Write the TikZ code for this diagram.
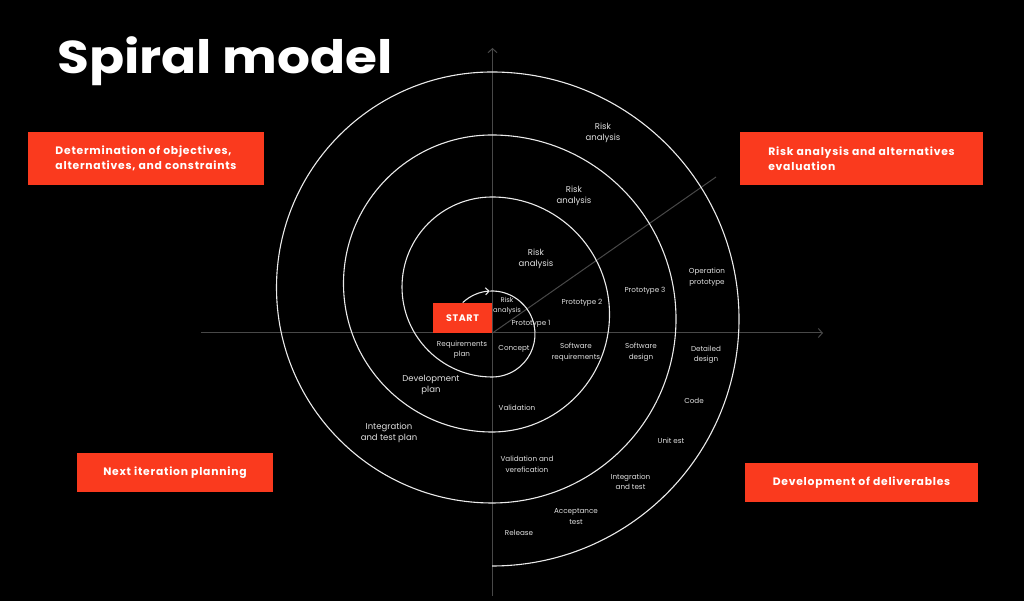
\documentclass[tikz,border=0pt]{standalone}
\usepackage{fontspec}
\setmainfont{Poppins}
\newfontfamily\boxfont{Poppins}[LetterSpace=7]
\usetikzlibrary{arrows.meta}
\definecolor{hot}{RGB}{250,58,30}
\definecolor{axisgray}{RGB}{72,72,72}
\definecolor{spiralwhite}{RGB}{235,235,235}
\definecolor{labelgray}{RGB}{225,225,225}
\begin{document}
\begin{tikzpicture}[x=1pt,y=1pt,
  redbox/.style={fill=hot, text=white, font=\boxfont\bfseries\fontsize{10.8}{15}\selectfont, align=left, inner sep=0pt},
  lbl/.style={text=labelgray, font=\fontsize{7.2}{10.5}\selectfont, align=center, inner sep=0pt},
  lblm/.style={text=labelgray, font=\fontsize{8.5}{11}\selectfont, align=center, inner sep=0pt},
  axisline/.style={draw=axisgray, line width=1pt},
  spiralline/.style={draw=spiralwhite, line width=1.1pt},
  barb/.style={-{Straight Barb[length=4pt,width=9pt]}},
]
\fill[black] (0,0) rectangle (1024,601);
\useasboundingbox (0,0) rectangle (1024,601);

% axes
\coordinate (O) at (492.5,268);
\coordinate (xl) at (201,268);
\coordinate (xr) at (823,268);
\coordinate (yb) at (492.5,5);
\coordinate (yt) at (492.5,553);
\coordinate (dg) at (716,424);
\draw[axisline, barb] (xl) -- (xr);
\draw[axisline, barb] (yb) -- (yt);
\draw[axisline] (O) -- (dg);

% spiral
\coordinate (s0) at (462.7,298.4);
\coordinate (s1) at (489.75,309.94);
\draw[spiralline, -{Straight Barb[length=3.5pt,width=7pt]}] (s0) arc[start angle=133, end angle=93, radius=43];
\draw[spiralline] (s1) arc[start angle=93, end angle=-90, radius=43]
  arc[start angle=270, end angle=90, radius=90]
  arc[start angle=90, end angle=-90, radius=117.5]
  arc[start angle=270, end angle=90, radius=148.5]
  arc[start angle=90, end angle=-90, radius=184]
  arc[start angle=270, end angle=90, radius=215.5]
  arc[start angle=90, end angle=-90, radius=247];

% title
\node[anchor=base west, inner sep=0pt, text=white, font=\bfseries\fontsize{46}{46}\selectfont] (title) at (57,527) {\scalebox{1.125}[1]{Spiral model}};

% red boxes
\node[redbox, minimum width=236, minimum height=53] (b1) at (146,442.5) {Determination of objectives,\\alternatives, and constraints};
\node[redbox, minimum width=243, minimum height=53] (b2) at (861.5,442.5) {Risk analysis and alternatives\\evaluation};
\node[redbox, minimum width=196, minimum height=39, align=center] (b3) at (175,128.5) {Next iteration planning};
\node[redbox, minimum width=233, minimum height=39, align=center] (b4) at (861.5,118.5) {Development of deliverables};
\node[redbox, minimum width=59, minimum height=30, align=center, font=\boxfont\bfseries\fontsize{9.5}{11}\selectfont] (start) at (462.5,283) {START};

% labels
\node[lbl, font=\fontsize{6.8}{10}\selectfont] (ra1) at (507,295.5) {Risk\\analysis};
\node[lbl] (p1) at (531,277) {Prototype 1};
\node[lblm] (ra2) at (536,342.5) {Risk\\analysis};
\node[lbl] (p2) at (582,298) {Prototype 2};
\node[lblm] (ra3) at (574,405.5) {Risk\\analysis};
\node[lbl] (p3) at (645,310) {Prototype 3};
\node[lblm] (ra4) at (603,468) {Risk\\analysis};
\node[lbl] (op) at (707,324) {Operation\\prototype};
\node[lbl] (rp) at (462,251.5) {Requirements\\plan};
\node[lbl] (cc) at (514,252) {Concept};
\node[lbl] (sr) at (576,249) {Software\\requirements};
\node[lbl] (sd) at (641,249) {Software\\design};
\node[lbl] (dd) at (706,246.5) {Detailed\\design};
\node[lblm] (dp) at (431,216) {Development\\plan};
\node[lblm] (itp) at (389,168) {Integration\\and test plan};
\node[lbl] (va) at (517,193) {Validation};
\node[lbl] (vv) at (527,136.5) {Validation and\\verefication};
\node[lbl] (co) at (694,200) {Code};
\node[lbl] (ut) at (671,160) {Unit est};
\node[lbl] (it) at (630.5,119) {Integration\\and test};
\node[lbl] (at) at (576,84.5) {Acceptance\\test};
\node[lbl] (re) at (519,68) {Release};
\end{tikzpicture}
\end{document}
